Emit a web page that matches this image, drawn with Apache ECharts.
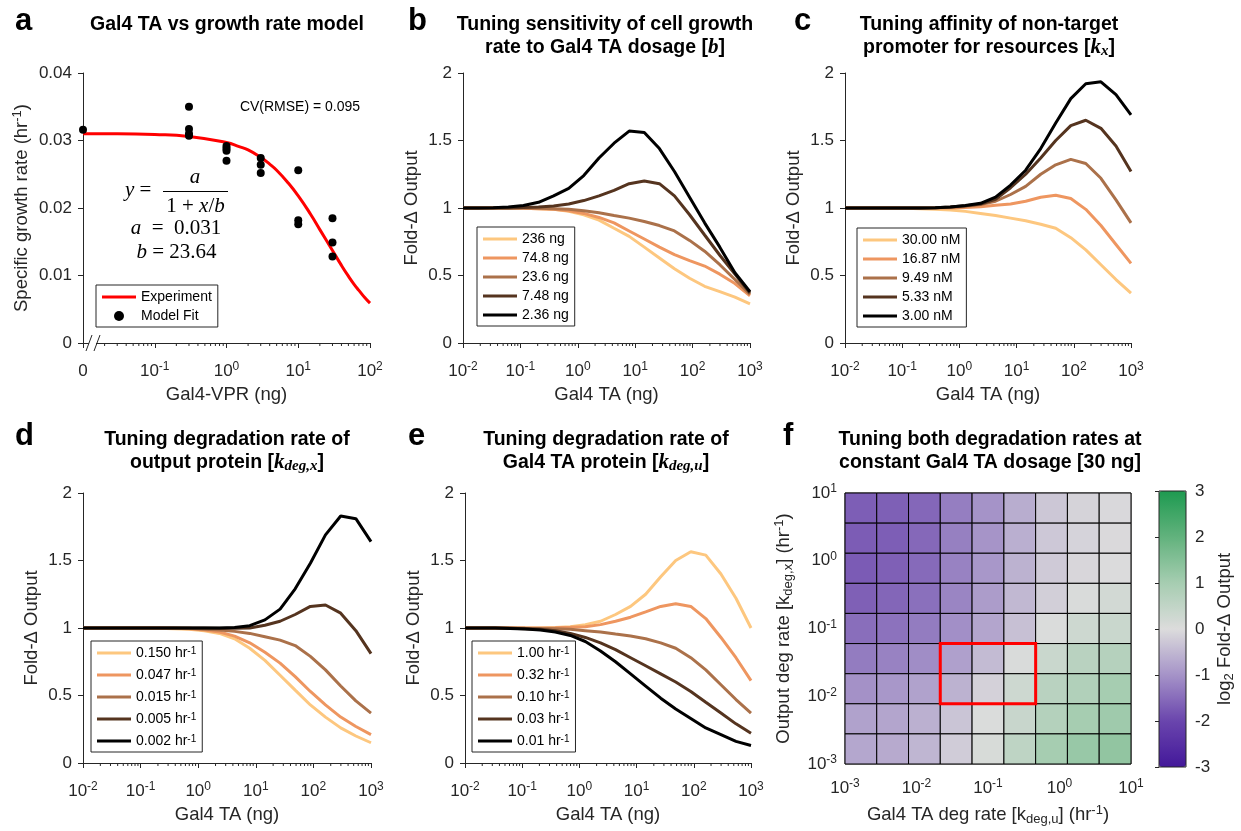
<!DOCTYPE html>
<html><head><meta charset="utf-8">
<script src="https://cdn.jsdelivr.net/npm/echarts@6/dist/echarts.min.js"></script>
<style>html,body{margin:0;padding:0;background:#fff}#c{width:1241px;height:831px}</style>
</head><body><div id="c"></div>
<script>
// ---------------- DATA ----------------
// Panel a: growth rate vs Gal4-VPR dosage (x = 0 drawn at the axis break)
const aPtsX = [0, 0.3, 0.3, 0.3, 0.3, 1, 1, 1, 1, 3, 3, 3, 10, 10, 10, 30, 30, 30];
const aPtsY = [0.0316, 0.0350, 0.0317, 0.0310, 0.0307, 0.0292, 0.0288, 0.0285, 0.0270, 0.0274, 0.0264, 0.0252, 0.0256, 0.0182, 0.0176, 0.0185, 0.0149, 0.0128];
const aCurveX = [0, 0.03, 0.1, 0.3, 1, 1.5, 2, 3, 4, 5, 7, 10, 15, 20, 30, 40, 50, 60, 70, 85, 100];
const aCurveY = [0.0310, 0.0310, 0.0309, 0.0306, 0.0297, 0.0291, 0.0286, 0.0275, 0.0265, 0.0256, 0.0239, 0.0218, 0.0190, 0.0168, 0.0137, 0.0115, 0.0099, 0.0087, 0.0078, 0.0067, 0.0059];

// Panels b-e: shared Gal4 TA dosage grid (ng)
const taDose = [0.01, 0.0183, 0.0336, 0.0616, 0.113, 0.207, 0.379, 0.695, 1.27, 2.34, 4.28, 7.85, 14.4, 26.4, 48.3, 88.6, 162, 298, 546, 1000];

const bNames = ['236 ng', '74.8 ng', '23.6 ng', '7.48 ng', '2.36 ng'];
const b_236 = [1, 1, 1, 1, 0.998, 0.995, 0.99, 0.975, 0.95, 0.91, 0.85, 0.79, 0.71, 0.63, 0.55, 0.48, 0.42, 0.38, 0.34, 0.29];
const b_748 = [1, 1, 1, 1, 0.998, 0.995, 0.99, 0.98, 0.96, 0.93, 0.89, 0.83, 0.77, 0.71, 0.655, 0.61, 0.57, 0.51, 0.44, 0.35];
const b_236s = [1, 1, 1, 1, 1, 0.998, 0.995, 0.99, 0.98, 0.965, 0.945, 0.925, 0.90, 0.87, 0.83, 0.76, 0.68, 0.58, 0.47, 0.36];
const b_748s = [1, 1, 1, 1, 1.003, 1.008, 1.015, 1.03, 1.055, 1.09, 1.13, 1.18, 1.20, 1.18, 1.09, 0.95, 0.80, 0.65, 0.51, 0.37];
const b_236t = [1, 1, 1.002, 1.008, 1.018, 1.042, 1.09, 1.145, 1.24, 1.37, 1.48, 1.57, 1.56, 1.44, 1.27, 1.08, 0.89, 0.71, 0.52, 0.38];

const cNames = ['30.00 nM', '16.87 nM', '9.49 nM', '5.33 nM', '3.00 nM'];
const c_3000 = [1, 1, 1, 1, 0.998, 0.995, 0.99, 0.985, 0.975, 0.96, 0.945, 0.925, 0.905, 0.88, 0.85, 0.78, 0.69, 0.58, 0.47, 0.37];
const c_1687 = [1, 1, 1, 1, 1, 1, 1, 1, 1.003, 1.01, 1.02, 1.03, 1.05, 1.08, 1.095, 1.07, 0.99, 0.87, 0.73, 0.59];
const c_949 = [1, 1, 1, 1, 1, 1, 1.002, 1.006, 1.012, 1.025, 1.05, 1.10, 1.16, 1.25, 1.32, 1.36, 1.33, 1.22, 1.06, 0.89];
const c_533 = [1, 1, 1, 1, 1, 1, 1.002, 1.007, 1.016, 1.03, 1.065, 1.15, 1.25, 1.37, 1.50, 1.61, 1.65, 1.59, 1.46, 1.27];
const c_300 = [1, 1, 1, 1, 1, 1, 1.002, 1.008, 1.018, 1.035, 1.08, 1.17, 1.28, 1.44, 1.63, 1.81, 1.92, 1.935, 1.84, 1.69];

const dNames = ['0.150 hr-1', '0.047 hr-1', '0.015 hr-1', '0.005 hr-1', '0.002 hr-1'];
const d_150 = [1, 1, 1, 1, 1, 0.998, 0.995, 0.99, 0.98, 0.96, 0.92, 0.85, 0.76, 0.65, 0.54, 0.43, 0.34, 0.26, 0.20, 0.15];
const d_047 = [1, 1, 1, 1, 1, 1, 0.998, 0.995, 0.985, 0.97, 0.94, 0.89, 0.82, 0.74, 0.64, 0.53, 0.43, 0.34, 0.27, 0.21];
const d_015 = [1, 1, 1, 1, 1, 1, 1, 0.998, 0.99, 0.985, 0.975, 0.96, 0.935, 0.91, 0.87, 0.79, 0.69, 0.57, 0.46, 0.37];
const d_005 = [1, 1, 1, 1, 1, 1, 1, 1, 1, 0.999, 0.999, 1.0, 1.02, 1.05, 1.10, 1.16, 1.17, 1.11, 0.98, 0.81];
const d_002 = [1, 1, 1, 1, 1, 1, 1, 1, 1, 1, 1.003, 1.017, 1.06, 1.14, 1.29, 1.48, 1.69, 1.83, 1.81, 1.64];

const eNames = ['1.00 hr-1', '0.32 hr-1', '0.10 hr-1', '0.03 hr-1', '0.01 hr-1'];
const e_100 = [1, 1, 1, 1, 1, 1, 1.003, 1.01, 1.025, 1.05, 1.10, 1.16, 1.25, 1.38, 1.50, 1.565, 1.54, 1.40, 1.22, 1.0];
const e_032 = [1, 1, 1, 1, 1, 1, 1.002, 1.005, 1.01, 1.025, 1.05, 1.08, 1.12, 1.16, 1.18, 1.16, 1.07, 0.93, 0.78, 0.61];
const e_010 = [1, 1, 1, 1, 0.998, 0.997, 0.995, 0.99, 0.98, 0.97, 0.955, 0.94, 0.92, 0.89, 0.85, 0.78, 0.69, 0.58, 0.47, 0.37];
const e_003 = [1, 1, 1, 0.998, 0.995, 0.99, 0.98, 0.96, 0.93, 0.89, 0.84, 0.78, 0.72, 0.66, 0.60, 0.53, 0.45, 0.37, 0.29, 0.22];
const e_001 = [1, 1, 1, 0.997, 0.993, 0.985, 0.97, 0.945, 0.90, 0.83, 0.75, 0.66, 0.57, 0.48, 0.40, 0.33, 0.26, 0.21, 0.16, 0.13];

// Panel f: cell edges (hr^-1), same for both axes; values = log2 fold change, rows top -> bottom
const hmEdges = [0.001, 0.00278, 0.00774, 0.0215, 0.0599, 0.167, 0.464, 1.29, 3.59, 10];
const hmRows = [
  [-1.68, -1.66, -1.56, -1.27, -1.00, -0.65, -0.29, -0.13, -0.05],
  [-1.70, -1.68, -1.55, -1.25, -0.98, -0.62, -0.27, -0.12, -0.04],
  [-1.72, -1.65, -1.52, -1.22, -0.95, -0.58, -0.24, -0.08, -0.02],
  [-1.65, -1.58, -1.45, -1.18, -0.88, -0.50, -0.18, 0.05, 0.18],
  [-1.48, -1.42, -1.30, -1.05, -0.75, -0.38, 0.03, 0.27, 0.36],
  [-1.30, -1.22, -1.08, -0.82, -0.45, 0.05, 0.36, 0.64, 0.73],
  [-1.02, -0.95, -0.80, -0.58, -0.15, 0.27, 0.65, 0.80, 1.00],
  [-0.80, -0.75, -0.60, -0.32, 0.03, 0.37, 0.75, 1.00, 1.10],
  [-0.72, -0.68, -0.52, -0.22, 0.10, 0.55, 1.00, 1.20, 1.30]
];
const redBox = [0.0215, 0.464, 0.00774, 0.0599]; // x0, x1, y0, y1

// ---------------- STYLE ----------------
const FONT = '"Liberation Sans", Arial, Helvetica, sans-serif';
const SERIF = '"Liberation Serif", "Times New Roman", serif';
const AX = '#262626';
const lineColors = ['#FDC77F', '#EE9660', '#AB714A', '#55341F', '#000000'];
const cmap = ['#43189A', '#6A45AD', '#A593C8', '#DCDCDC', '#A6CDB1', '#62B27D', '#1E9A50'];
const LINE_ICON = 'path://M0,0L34,0L34,3L0,3Z';

const labelRich = {
  sup: { fontSize: 12, verticalAlign: 'top', lineHeight: 8, fontFamily: FONT, color: AX }
};
const nameRich = {
  sup: { fontSize: 13, verticalAlign: 'top', lineHeight: 8, fontFamily: FONT, color: AX },
  sub: { fontSize: 13, verticalAlign: 'bottom', lineHeight: 8, fontFamily: FONT, color: AX }
};
const nameStyle = { fontSize: 18.5, color: AX, fontFamily: FONT, lineHeight: 22, rich: nameRich };

function logFmt(v) { return '10{sup|' + Math.round(Math.log10(v)) + '}'; }
function aFmt(v) { return v <= 0.01001 ? '0' : logFmt(v); }

const grids = [
  { left: 83, top: 73, width: 287, height: 270 },
  { left: 463, top: 73, width: 287, height: 270 },
  { left: 845, top: 73, width: 286, height: 270 },
  { left: 83, top: 493, width: 288, height: 270 },
  { left: 465, top: 493, width: 286, height: 270 },
  { left: 845, top: 493, width: 286, height: 271, show: true, borderColor: '#444', borderWidth: 1 },
  { left: 1159, top: 491, width: 27, height: 276, show: true, borderColor: AX, borderWidth: 1, backgroundColor: 'transparent', z: 10 }
];

function logX(gi, min, max, name, fmt) {
  return {
    type: 'log', logBase: 10, gridIndex: gi, min: min, max: max,
    axisLine: { show: true, onZero: false, lineStyle: { color: AX, width: 1 } },
    axisTick: { show: true, length: 5, lineStyle: { color: AX } },
    splitLine: { show: false },
    axisLabel: { formatter: fmt, fontSize: 17, color: AX, fontFamily: FONT, lineHeight: 20, margin: 18, rich: labelRich },
    name: name, nameLocation: 'middle', nameGap: 41, nameTextStyle: nameStyle
  };
}
function valY(gi, min, max, interval, name, gap, fmt) {
  return {
    type: 'value', gridIndex: gi, min: min, max: max, interval: interval,
    axisLine: { show: true, onZero: false, lineStyle: { color: AX, width: 1 } },
    axisTick: { show: true, length: 5, lineStyle: { color: AX } },
    splitLine: { show: false },
    axisLabel: { formatter: fmt, fontSize: 17, color: AX, fontFamily: FONT, margin: 11 },
    name: name, nameLocation: 'middle', nameGap: gap, nameRotate: 90, nameTextStyle: nameStyle
  };
}

const xAxes = [
  logX(0, 0.01, 100, 'Gal4-VPR (ng)', aFmt),
  logX(1, 0.01, 1000, 'Gal4 TA (ng)', logFmt),
  logX(2, 0.01, 1000, 'Gal4 TA (ng)', logFmt),
  logX(3, 0.01, 1000, 'Gal4 TA (ng)', logFmt),
  logX(4, 0.01, 1000, 'Gal4 TA (ng)', logFmt),
  Object.assign(logX(5, 0.001, 10, 'Gal4 TA deg rate [k{sub|deg,u}] (hr{sup|-1})', logFmt),
    { axisLine: { show: false }, axisTick: { show: false }, nameGap: 40 }),
  { type: 'value', gridIndex: 6, show: false, min: 0, max: 1 }
];
xAxes[5].axisLabel = Object.assign({}, xAxes[5].axisLabel, { margin: 14 });
const yAxes = [
  valY(0, 0, 0.04, 0.01, 'Specific growth rate (hr{sup|-1})', 50, function (v) { return v === 0 ? '0' : v.toFixed(2); }),
  valY(1, 0, 2, 0.5, 'Fold-Δ Output', 40),
  valY(2, 0, 2, 0.5, 'Fold-Δ Output', 40),
  valY(3, 0, 2, 0.5, 'Fold-Δ Output', 40),
  valY(4, 0, 2, 0.5, 'Fold-Δ Output', 40),
  {
    type: 'log', logBase: 10, gridIndex: 5, min: 0.001, max: 10,
    axisLine: { show: false }, axisTick: { show: false }, splitLine: { show: false },
    axisLabel: { formatter: logFmt, fontSize: 17, color: AX, fontFamily: FONT, lineHeight: 20, margin: 8, rich: labelRich },
    name: 'Output deg rate [k{sub|deg,x}] (hr{sup|-1})', nameLocation: 'middle', nameGap: 50, nameRotate: 90, nameTextStyle: nameStyle
  },
  {
    type: 'value', gridIndex: 6, position: 'right', min: -3, max: 3, interval: 1, z: 10,
    axisLine: { show: false }, splitLine: { show: false },
    axisTick: { show: true, inside: true, length: 4, lineStyle: { color: AX } },
    axisLabel: { fontSize: 17, color: AX, fontFamily: FONT, margin: 9 },
    name: 'log{sub|2} Fold-Δ Output', nameLocation: 'middle', nameGap: 28, nameRotate: 90, nameTextStyle: nameStyle
  }
];

// ---------------- SERIES ----------------
const series = [];
function lineS(name, gi, ys, color) {
  series.push({
    type: 'line', name: name, xAxisIndex: gi, yAxisIndex: gi,
    data: taDose.map(function (x, i) { return [x, ys[i]]; }),
    symbol: 'none', lineStyle: { width: 3, color: color }, itemStyle: { color: color }, z: 3, silent: true
  });
}
function addPanel(gi, names, arrs) {
  for (let k = 0; k < 5; k++) lineS(names[k], gi, arrs[k], lineColors[k]);
}
// Panel a
const axMin = 0.01;
series.push({
  type: 'line', name: 'Experiment', xAxisIndex: 0, yAxisIndex: 0, smooth: true, symbol: 'none',
  data: aCurveX.map(function (x, i) { return [x === 0 ? axMin : x, aCurveY[i]]; }),
  lineStyle: { width: 3, color: '#FF0000' }, itemStyle: { color: '#FF0000' }, z: 3
});
series.push({
  type: 'scatter', name: 'Model Fit', xAxisIndex: 0, yAxisIndex: 0, symbolSize: 8,
  data: aPtsX.map(function (x, i) { return [x === 0 ? axMin : x, aPtsY[i]]; }),
  itemStyle: { color: '#000', opacity: 1 }, z: 4
});
addPanel(1, bNames, [b_236, b_748, b_236s, b_748s, b_236t]);
addPanel(2, cNames, [c_3000, c_1687, c_949, c_533, c_300]);
addPanel(3, dNames, [d_150, d_047, d_015, d_005, d_002]);
addPanel(4, eNames, [e_100, e_032, e_010, e_003, e_001]);

// minor log ticks on panels a-e
function minorTicks(gi, e0, e1) {
  const vals = [];
  for (let e = e0; e < e1; e++) for (let m = 2; m <= 9; m++) vals.push([m * Math.pow(10, e), 0]);
  series.push({
    type: 'custom', xAxisIndex: gi, yAxisIndex: gi, silent: true, clip: false, z: 5,
    data: vals,
    renderItem: function (params, api) {
      const p = api.coord([api.value(0), api.value(1)]);
      return { type: 'line', shape: { x1: p[0], y1: p[1], x2: p[0], y2: p[1] + 3 }, style: { stroke: AX, lineWidth: 1 } };
    }
  });
}
minorTicks(0, -2, 2);
minorTicks(1, -2, 3);
minorTicks(2, -2, 3);
minorTicks(3, -2, 3);
minorTicks(4, -2, 3);

// heatmap
const hmData = [];
hmRows.forEach(function (row, r) {
  const j = 8 - r;
  row.forEach(function (v, c) {
    hmData.push([Math.sqrt(hmEdges[c] * hmEdges[c + 1]), Math.sqrt(hmEdges[j] * hmEdges[j + 1]), v, c, j]);
  });
});
const HM_INDEX = series.length;
series.push({
  type: 'custom', name: 'heat', xAxisIndex: 5, yAxisIndex: 5, silent: true,
  dimensions: ['x', 'y', 'v', 'ci', 'ri'], encode: { x: 0, y: 1 },
  data: hmData,
  renderItem: function (params, api) {
    const c = api.value(3), j = api.value(4);
    const p0 = api.coord([hmEdges[c], hmEdges[j + 1]]);
    const p1 = api.coord([hmEdges[c + 1], hmEdges[j]]);
    return { type: 'rect', shape: { x: p0[0], y: p0[1], width: p1[0] - p0[0], height: p1[1] - p0[1] },
      style: { fill: api.visual('color'), stroke: '#000', lineWidth: 1 } };
  }
});
series.push({
  type: 'custom', name: 'box', xAxisIndex: 5, yAxisIndex: 5, silent: true, z: 6,
  dimensions: ['x0', 'x1', 'y0', 'y1'], encode: { x: [0, 1], y: [2, 3] },
  data: [redBox],
  renderItem: function (params, api) {
    const p0 = api.coord([api.value(0), api.value(3)]);
    const p1 = api.coord([api.value(1), api.value(2)]);
    return { type: 'rect', shape: { x: p0[0], y: p0[1], width: p1[0] - p0[0], height: p1[1] - p0[1] },
      style: { fill: 'none', stroke: '#FF0000', lineWidth: 3 } };
  }
});

// ---------------- LEGENDS ----------------
function legend(items, left, top, gap) {
  return {
    data: items, orient: 'vertical', left: left, top: top, itemWidth: 34, itemHeight: 10, itemGap: gap,
    padding: [5, 6, 4, 6], borderColor: AX, borderWidth: 1, backgroundColor: '#fff', borderRadius: 0,
    selectedMode: false, z: 8, symbolKeepAspect: true,
    textStyle: { fontSize: 14, color: '#000', fontFamily: FONT, rich: { sup: { fontSize: 10, verticalAlign: 'top', lineHeight: 6, color: '#000', fontFamily: FONT } } },
    formatter: function (n) { return n.replace('hr-1', 'hr{sup|-1}'); }
  };
}
function lineItems(names) { return names.map(function (n) { return { name: n, icon: LINE_ICON }; }); }

// ---------------- TEXT ----------------
const titleRich = {
  k: { fontFamily: SERIF, fontStyle: 'italic', fontWeight: 'bold', fontSize: 21, fill: '#000' },
  ks: { fontFamily: SERIF, fontStyle: 'italic', fontWeight: 'bold', fontSize: 15, verticalAlign: 'bottom', lineHeight: 8, fill: '#000' }
};
function titleT(x, y, text) {
  return { type: 'text', x: x, y: y, silent: true,
    style: { text: text, align: 'center', verticalAlign: 'top', fontSize: 19.5, fontWeight: 'bold', fontFamily: FONT, lineHeight: 23, fill: '#000', rich: titleRich } };
}
function letterT(x, y, t) {
  return { type: 'text', x: x, y: y, silent: true,
    style: { text: t, align: 'left', verticalAlign: 'middle', fontSize: 31, fontWeight: 'bold', fontFamily: FONT, fill: '#000' } };
}
const eqRich = { i: { fontStyle: 'italic', fontFamily: SERIF, fontSize: 21, fill: '#000' } };
function eqT(x, y, t, align) {
  return { type: 'text', x: x, y: y, silent: true,
    style: { text: t, align: align || 'center', verticalAlign: 'middle', fontSize: 21, fontFamily: SERIF, fill: '#000', rich: eqRich } };
}

const graphics = [
  letterT(15, 21, 'a'), letterT(408, 21, 'b'), letterT(794, 21, 'c'),
  letterT(15, 436, 'd'), letterT(408, 436, 'e'), letterT(783, 436, 'f'),
  titleT(227, 13, 'Gal4 TA vs growth rate model'),
  titleT(605, 13, 'Tuning sensitivity of cell growth\nrate to Gal4 TA dosage [{k|b}]'),
  titleT(989, 13, 'Tuning affinity of non-target\npromoter for resources [{k|k}{ks|x}]'),
  titleT(227, 428, 'Tuning degradation rate of\noutput protein [{k|k}{ks|deg,x}]'),
  titleT(606, 428, 'Tuning degradation rate of\nGal4 TA protein [{k|k}{ks|deg,u}]'),
  titleT(990, 428, 'Tuning both degradation rates at\nconstant Gal4 TA dosage [30 ng]'),
  { type: 'text', x: 300, y: 107, silent: true,
    style: { text: 'CV(RMSE) = 0.095', align: 'center', verticalAlign: 'middle', fontSize: 14, fontFamily: FONT, fill: '#000' } },
  eqT(125, 190, '{i|y} =', 'left'),
  eqT(195, 177, '{i|a}'),
  { type: 'line', silent: true, shape: { x1: 163, y1: 191.5, x2: 228, y2: 191.5 }, style: { stroke: '#000', lineWidth: 1 } },
  eqT(195.5, 206, '1 + {i|x}/{i|b}'),
  eqT(176, 228, '{i|a}  =  0.031'),
  eqT(176.5, 252, '{i|b} = 23.64'),
  // axis break marks on panel a
  { type: 'rect', silent: true, z: 100, shape: { x: 89, y: 340, width: 7, height: 6 }, style: { fill: '#fff' } },
  { type: 'line', silent: true, z: 101, shape: { x1: 86, y1: 351, x2: 92, y2: 335 }, style: { stroke: AX, lineWidth: 1 } },
  { type: 'line', silent: true, z: 101, shape: { x1: 94, y1: 351, x2: 100, y2: 335 }, style: { stroke: AX, lineWidth: 1 } }
];

const option = {
  backgroundColor: '#fff',
  animation: false,
  textStyle: { fontFamily: FONT },
  grid: grids,
  xAxis: xAxes,
  yAxis: yAxes,
  series: series,
  legend: [
    legend([{ name: 'Experiment', icon: LINE_ICON }, { name: 'Model Fit', icon: 'circle' }], 96, 285, 5),
    legend(lineItems(bNames), 477, 227, 5),
    legend(lineItems(cNames), 857, 228, 5),
    legend(lineItems(dNames), 91, 641, 8),
    legend(lineItems(eNames), 472, 641, 8)
  ],
  visualMap: {
    type: 'continuous', min: -3, max: 3, dimension: 2, seriesIndex: HM_INDEX,
    left: 1159, top: 491, itemWidth: 27, itemHeight: 276, padding: 0,
    calculable: false, text: null, showLabel: false, inRange: { color: cmap }
  },
  graphic: graphics
};

const chart = echarts.init(document.getElementById('c'), null, { renderer: 'canvas' });
chart.setOption(option);
</script></body></html>
